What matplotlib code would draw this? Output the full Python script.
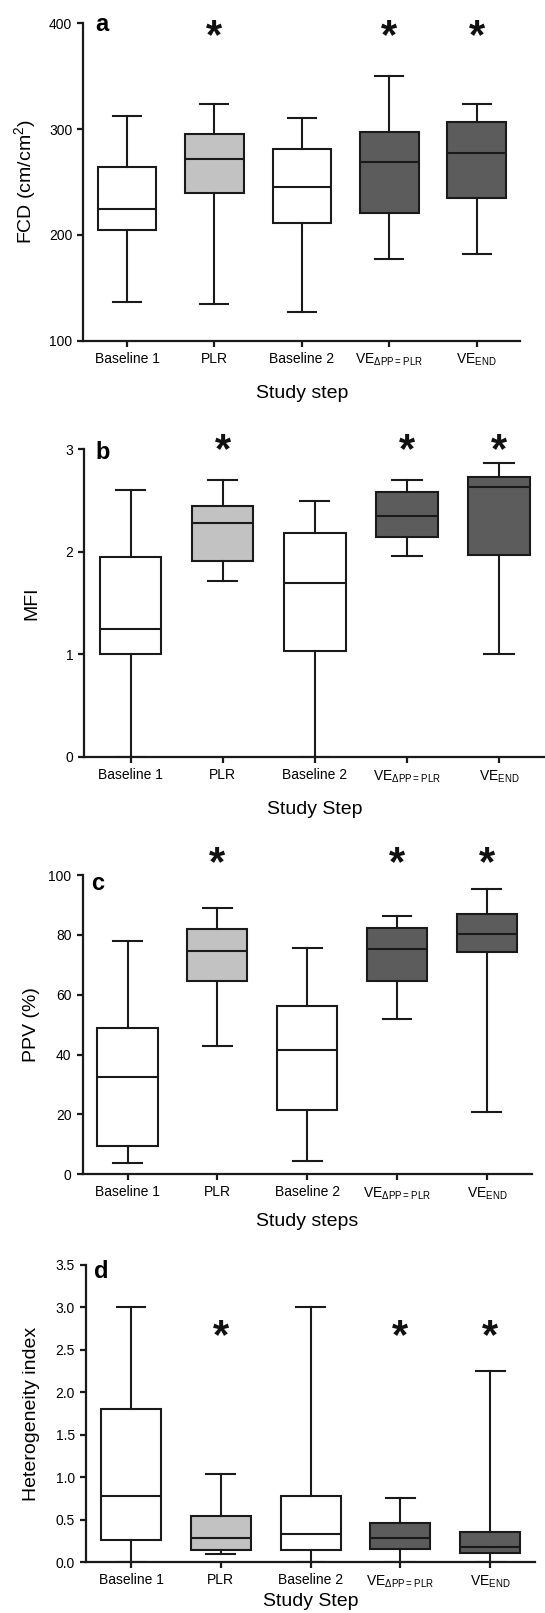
import matplotlib
matplotlib.use('Agg')
import matplotlib.pyplot as plt

plt.rcParams['font.family'] = ['Liberation Sans', 'DejaVu Sans']
plt.rcParams['mathtext.default'] = 'regular'

steps = ['Baseline 1', 'PLR', 'Baseline 2', 'VE$_{\\Delta PP{=}PLR}$', 'VE$_{END}$']
fills = ['white', '#c1c2c1', 'white', '#5c5c5c', '#5c5c5c']
signif = [False, True, False, True, True]

# each panel: lower whisker, Q1, median, Q3, upper whisker per step
fcd_lo = [137, 135, 127, 177.5, 181.5]
fcd_q1 = [205, 240, 211, 221, 235]
fcd_med = [224.5, 272, 245, 269, 277.5]
fcd_q3 = [264, 295, 281, 297, 307]
fcd_hi = [312, 324, 310.5, 350, 323.5]

mfi_lo = [0, 1.72, 0, 1.96, 1.0]
mfi_q1 = [1.0, 1.91, 1.03, 2.145, 1.965]
mfi_med = [1.25, 2.28, 1.70, 2.345, 2.63]
mfi_q3 = [1.95, 2.45, 2.18, 2.58, 2.73]
mfi_hi = [2.60, 2.70, 2.50, 2.70, 2.865]

ppv_lo = [3.9, 42.7, 4.4, 51.8, 20.7]
ppv_q1 = [9.5, 64.5, 21.6, 64.6, 74.3]
ppv_med = [32.5, 74.6, 41.6, 75.2, 80.3]
ppv_q3 = [48.9, 82.1, 56.3, 82.4, 86.9]
ppv_hi = [78.1, 89.1, 75.5, 86.4, 95.3]

het_lo = [0, 0.10, 0, 0, 0]
het_q1 = [0.263, 0.141, 0.145, 0.157, 0.106]
het_med = [0.785, 0.282, 0.333, 0.29, 0.184]
het_q3 = [1.81, 0.545, 0.78, 0.463, 0.361]
het_hi = [3.0, 1.044, 3.0, 0.761, 2.248]

panels = [
    dict(letter='a', lo=fcd_lo, q1=fcd_q1, med=fcd_med, q3=fcd_q3, hi=fcd_hi,
         ylim=(100, 400), yticks=[100, 200, 300, 400], yfmt='{:.0f}',
         ylabel='FCD (cm/cm$^2$)', xlabel='Study step', star=386.6,
         rect=[0.1530, 0.78878, 0.8017, 0.19678], xlp=12, ylp=8, lx=0.028, ly=0.995),
    dict(letter='b', lo=mfi_lo, q1=mfi_q1, med=mfi_med, q3=mfi_q3, hi=mfi_hi,
         ylim=(0, 3), yticks=[0, 1, 2, 3], yfmt='{:.0f}',
         ylabel='MFI', xlabel='Study Step', star=2.985,
         rect=[0.1550, 0.53069, 0.8450, 0.19076], xlp=12, ylp=18, lx=0.024, ly=0.988),
    dict(letter='c', lo=ppv_lo, q1=ppv_q1, med=ppv_med, q3=ppv_q3, hi=ppv_hi,
         ylim=(0, 100), yticks=[0, 20, 40, 60, 80, 100], yfmt='{:.0f}',
         ylabel='PPV (%)', xlabel='Study steps', star=103.6,
         rect=[0.1517, 0.27198, 0.8240, 0.18555], xlp=8, ylp=6, lx=0.018, ly=0.973),
    dict(letter='d', lo=het_lo, q1=het_q1, med=het_med, q3=het_q3, hi=het_hi,
         ylim=(0, 3.5), yticks=[0, 0.5, 1.0, 1.5, 2.0, 2.5, 3.0, 3.5], yfmt='{:.1f}',
         ylabel='Heterogeneity index', xlabel='Study Step', star=2.647,
         rect=[0.1582, 0.03143, 0.8235, 0.18432], xlp=2, ylp=11, lx=0.017, ly=0.977),
]

fig = plt.figure(figsize=(5.45, 16.13), dpi=100)
edge = '#1a1a1a'
lw = 1.5

for p in panels:
    ax = fig.add_axes(p['rect'])
    stats = []
    for i in range(5):
        stats.append(dict(whislo=p['lo'][i], q1=p['q1'][i], med=p['med'][i],
                          q3=p['q3'][i], whishi=p['hi'][i], fliers=[]))
    bp = ax.bxp(stats, positions=[1, 2, 3, 4, 5], widths=0.67, capwidths=0.32,
                patch_artist=True, showfliers=False,
                boxprops=dict(edgecolor=edge, linewidth=lw),
                medianprops=dict(color=edge, linewidth=lw),
                whiskerprops=dict(color=edge, linewidth=lw),
                capprops=dict(color=edge, linewidth=lw))
    for box, c in zip(bp['boxes'], fills):
        box.set_facecolor(c)

    for i in range(5):
        if signif[i]:
            ax.text(i + 1, p['star'], '*', ha='center', va='center',
                    fontsize=30, fontweight='bold', color='#111111',
                    clip_on=False)

    ax.set_xlim(0.5, 5.5)
    ax.set_ylim(*p['ylim'])
    ax.set_yticks(p['yticks'])
    ax.set_yticklabels([p['yfmt'].format(v) for v in p['yticks']])
    ax.set_xticks([1, 2, 3, 4, 5])
    ax.set_xticklabels(steps)
    for s in ['top', 'right']:
        ax.spines[s].set_visible(False)
    for s in ['left', 'bottom']:
        ax.spines[s].set_linewidth(1.6)
        ax.spines[s].set_color(edge)
    ax.tick_params(axis='both', direction='out', length=4, width=1.6,
                   color=edge, labelsize=10, pad=4)
    ax.set_xlabel(p['xlabel'], fontsize=14, labelpad=p['xlp'])
    ax.set_ylabel(p['ylabel'], fontsize=14, labelpad=p['ylp'])
    ax.text(p['lx'], p['ly'], p['letter'], transform=ax.transAxes,
            ha='left', va='center', fontsize=17, fontweight='bold')

fig.savefig('out.png', dpi=100)
